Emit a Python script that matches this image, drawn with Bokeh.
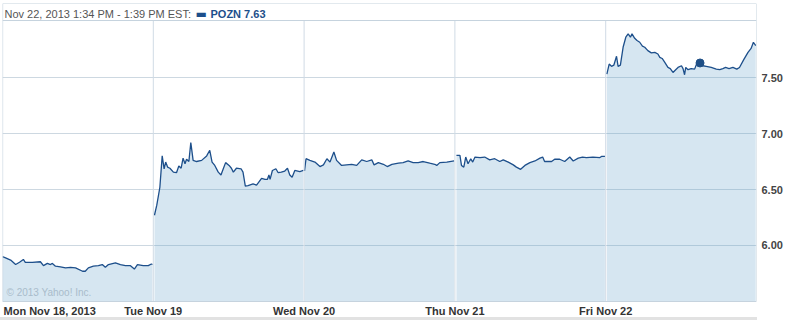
from bokeh.plotting import figure
from bokeh.models import (LinearAxis, FixedTicker, Range1d, Label, Spacer,
                          NumeralTickFormatter)
from bokeh.core.properties import value
from bokeh.layouts import column
from bokeh.embed import file_html
from bokeh.resources import INLINE

# ---------------- data ----------------
day_labels = ["Mon Nov 18, 2013", "Tue Nov 19", "Wed Nov 20", "Thu Nov 21", "Fri Nov 22"]
session_minutes = 390  # 9:30 - 16:00

mon_min = [0, 8, 21, 34, 44, 54, 59, 77, 98, 106, 116, 124, 129, 137, 150, 163, 176, 189, 207, 214,
           222, 235, 248, 258, 266, 274, 292, 305, 318, 331, 341, 349, 364, 377, 385, 388]
mon_px = [5.90, 5.89, 5.87, 5.83, 5.85, 5.875, 5.85, 5.85, 5.855, 5.82, 5.84, 5.83, 5.84, 5.815, 5.81,
          5.80, 5.805, 5.80, 5.77, 5.77, 5.80, 5.815, 5.82, 5.83, 5.805, 5.83, 5.845, 5.83, 5.82, 5.82,
          5.79, 5.83, 5.82, 5.82, 5.835, 5.83]

tue_min = [3, 9, 17, 23, 28, 32, 37, 43, 52, 60, 66, 72, 77, 82, 86, 92, 97, 103, 112, 125, 138, 146,
           152, 159, 168, 175, 181, 187, 196, 202, 207, 215, 227, 232, 238, 245, 258, 267, 280, 289,
           295, 299, 302, 308, 317, 323, 331, 340, 347, 353, 359, 366, 379, 388]
tue_px = [6.27, 6.36, 6.52, 6.80, 6.685, 6.745, 6.70, 6.69, 6.655, 6.65, 6.71, 6.69, 6.78, 6.73, 6.77,
          6.75, 6.92, 6.76, 6.75, 6.76, 6.80, 6.85, 6.745, 6.715, 6.655, 6.63, 6.685, 6.74, 6.715, 6.69,
          6.655, 6.69, 6.685, 6.655, 6.53, 6.535, 6.55, 6.54, 6.60, 6.59, 6.59, 6.63, 6.59, 6.67, 6.685,
          6.65, 6.655, 6.665, 6.69, 6.63, 6.61, 6.67, 6.66, 6.67]

wed_min = [1, 5, 15, 28, 41, 50, 59, 67, 77, 84, 97, 110, 123, 136, 149, 162, 175, 181, 192, 205, 215,
           227, 244, 256, 269, 282, 295, 308, 325, 338, 343, 351, 369, 388]
wed_px = [6.665, 6.775, 6.76, 6.745, 6.705, 6.72, 6.775, 6.745, 6.835, 6.76, 6.715, 6.72, 6.725, 6.715,
          6.765, 6.75, 6.765, 6.72, 6.74, 6.725, 6.705, 6.725, 6.735, 6.74, 6.755, 6.74, 6.74, 6.75,
          6.735, 6.725, 6.715, 6.74, 6.745, 6.755]

thu_min = [4, 13, 17, 23, 28, 34, 41, 46, 52, 65, 77, 90, 103, 116, 125, 138, 151, 159, 170, 181, 194,
           207, 220, 227, 232, 250, 258, 271, 284, 297, 306, 319, 330, 340, 357, 375, 379, 388]
thu_px = [6.805, 6.805, 6.715, 6.70, 6.79, 6.73, 6.775, 6.745, 6.79, 6.785, 6.79, 6.765, 6.775, 6.75,
          6.765, 6.745, 6.72, 6.70, 6.68, 6.715, 6.74, 6.755, 6.78, 6.79, 6.75, 6.75, 6.77, 6.77, 6.75,
          6.79, 6.755, 6.78, 6.79, 6.785, 6.79, 6.785, 6.795, 6.795]

fri_min = [3, 9, 15, 21, 28, 32, 38, 45, 52, 58, 64, 68, 75, 81, 88, 95, 101, 109, 118, 127, 135, 140,
           146, 152, 161, 167, 174, 181, 187, 196, 200, 204, 207, 213, 221, 230, 236, 244, 251, 260,
           273, 286, 295, 303, 310, 319, 329, 339, 346, 357, 368, 376, 382, 388]
fri_px = [7.53, 7.62, 7.60, 7.61, 7.69, 7.60, 7.61, 7.77, 7.86, 7.89, 7.86, 7.89, 7.85, 7.83, 7.815,
          7.78, 7.77, 7.74, 7.72, 7.725, 7.71, 7.68, 7.67, 7.64, 7.59, 7.58, 7.545, 7.57, 7.59, 7.605,
          7.58, 7.525, 7.59, 7.57, 7.58, 7.575, 7.63, 7.635, 7.605, 7.60, 7.59, 7.575, 7.57, 7.58, 7.59,
          7.58, 7.59, 7.575, 7.59, 7.66, 7.725, 7.76, 7.815, 7.785]

days_min = [mon_min, tue_min, wed_min, thu_min, fri_min]
days_px = [mon_px, tue_px, wed_px, thu_px, fri_px]

marker_day = 4
marker_min = 244   # 1:34 PM
marker_px = 7.63

y_ticks = [6.0, 6.5, 7.0, 7.5]

header_text = "Nov 22, 2013 1:34 PM - 1:39 PM EST:"
legend_text = "POZN 7.63"
copyright_text = "\u00a9 2013 Yahoo! Inc."

# ---------------- layout constants (price units of the frame) ----------------
y_low = 5.5            # bottom of the chart box
y_chart_top = 8.009    # top of the chart box / bottom of header box
y_box_top = 8.161      # top of header box
y_frame_bottom = 5.357 # frame extends below chart box to hold the day labels
y_day_label = 5.418

LINE = "#1d4f8b"
FILL = "#5b9bc7"
GRID = "#cdd8e1"
BORDER = "#c6d3de"
FONT = "Liberation Sans"

p = figure(width=803, height=317, output_backend="svg", toolbar_location=None,
           x_range=Range1d(0, 5), y_range=Range1d(y_frame_bottom, y_box_top),
           frame_width=754, frame_height=314,
           min_border_left=2, min_border_top=3, min_border_right=0, min_border_bottom=0,
           y_axis_location=None, x_axis_location=None)
p.background_fill_color = "white"
p.border_fill_color = "white"
p.outline_line_color = None

p.xgrid.visible = False
p.ygrid.ticker = FixedTicker(ticks=y_ticks)
p.ygrid.grid_line_color = GRID

# fills and lines per day
for d in range(5):
    xs = [d + m / session_minutes for m in days_min[d]]
    ys = days_px[d]
    p.varea(x=xs, y1=[y_low] * len(xs), y2=ys, fill_color=FILL, fill_alpha=0.25)
    p.line(xs, ys, line_color=LINE, line_width=1.3)

# day separators
seps = [1, 2, 3, 4]
p.segment(x0=seps, y0=[y_low] * 4, x1=seps, y1=[y_chart_top] * 4,
          line_color="#d0dbe5", line_width=1)

# chart box and header box borders
p.segment(x0=[0, 0, 0, 5, 0.001], y0=[y_box_top, y_chart_top, y_low, y_low, y_low],
          x1=[5, 5, 5, 5, 0.001], y1=[y_box_top, y_chart_top, y_low, y_box_top, y_box_top],
          line_color=BORDER, line_width=1)

# current point marker
p.scatter([marker_day + marker_min / session_minutes], [marker_px], size=8,
          fill_color="#1f4f86", line_color="#1f4f86")

# right axis
ax_r = LinearAxis(ticker=FixedTicker(ticks=y_ticks),
                  formatter=NumeralTickFormatter(format="0.00"))
ax_r.axis_line_color = None
ax_r.major_tick_line_color = None
ax_r.minor_tick_line_color = None
ax_r.major_tick_out = 0
ax_r.major_tick_in = 0
ax_r.major_label_standoff = 5
ax_r.major_label_text_font = FONT
ax_r.major_label_text_font_style = "bold"
ax_r.major_label_text_font_size = "11px"
ax_r.major_label_text_color = "#444444"
p.add_layout(ax_r, "right")

# day labels
p.text(x=[0], y=[y_day_label], text=[day_labels[0]], x_offset=1,
       text_align="left", text_baseline="middle", text_font=value(FONT),
       text_font_style="bold", text_font_size="11px", text_color="#333333")
p.text(x=[1, 2, 3, 4], y=[y_day_label] * 4, text=day_labels[1:],
       text_align="center", text_baseline="middle", text_font=value(FONT),
       text_font_style="bold", text_font_size="11px", text_color="#333333")

# header
p.add_layout(Label(x=0, y=y_box_top, x_offset=2, y_offset=-4, text=header_text,
                   text_align="left", text_baseline="top", text_font=FONT,
                   text_font_size="11px", text_color="#555555"))
p.add_layout(Label(x=0, y=y_box_top, x_offset=193, y_offset=-3, text="\u25ac",
                   text_align="left", text_baseline="top", text_font="DejaVu Sans",
                   text_font_size="12px", text_color=LINE))
p.add_layout(Label(x=0, y=y_box_top, x_offset=208, y_offset=-4, text=legend_text,
                   text_align="left", text_baseline="top", text_font=FONT,
                   text_font_style="bold", text_font_size="11px", text_color="#1d4f8b"))

# copyright
p.add_layout(Label(x=0, y=y_low, x_offset=4, y_offset=3, text=copyright_text,
                   text_align="left", text_baseline="bottom", text_font=FONT,
                   text_font_size="10px", text_color="#a9bccb"))

bar = Spacer(width=757, height=3, styles={"background-color": "#e2e2e2"})
layout = column(p, bar, spacing=0)

open("out.html", "w").write(file_html(layout, INLINE))
